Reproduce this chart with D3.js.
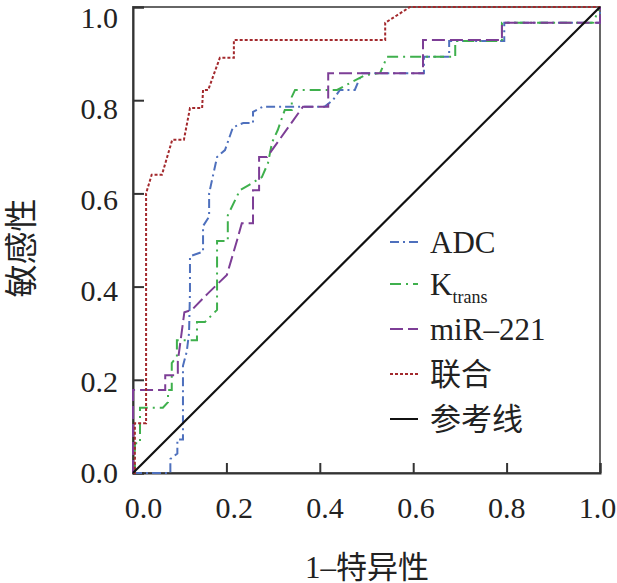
<!DOCTYPE html>
<html>
<head>
<meta charset="utf-8">
<script src="https://cdn.jsdelivr.net/npm/d3@7"></script>
<style>
  body { margin: 0; background: #fff; }
  text { font-family: "Liberation Serif", "Noto Sans CJK SC", serif; fill: #222; }
</style>
</head>
<body>
<div id="chart"></div>
<script>
// ROC curve points [1-specificity, sensitivity]
var adcPoints = [[0,0],[0.08,0],[0.08,0.03],[0.095,0.042],[0.095,0.072],[0.107,0.072],[0.107,0.23],
	[0.115,0.26],[0.12,0.3],[0.122,0.39],[0.122,0.465],[0.15,0.475],[0.15,0.53],[0.163,0.55],[0.163,0.6],
	[0.18,0.678],[0.197,0.693],[0.214,0.742],[0.236,0.751],[0.257,0.751],[0.257,0.775],[0.278,0.786],
	[0.41,0.786],[0.428,0.80],[0.443,0.822],[0.475,0.822],[0.49,0.858],[0.623,0.858],[0.623,0.893],
	[0.677,0.893],[0.677,0.927],[0.795,0.927],[0.795,0.966],[1,0.966],[1,1]];

var ktransPoints = [[0,0],[0.004,0],[0.004,0.064],[0.015,0.064],[0.015,0.14],[0.064,0.14],[0.075,0.152],
	[0.075,0.178],[0.083,0.178],[0.083,0.236],[0.094,0.25],[0.094,0.285],[0.137,0.285],[0.137,0.324],
	[0.154,0.324],[0.18,0.35],[0.18,0.498],[0.203,0.498],[0.203,0.553],[0.229,0.607],[0.248,0.618],
	[0.276,0.635],[0.289,0.665],[0.298,0.71],[0.31,0.736],[0.325,0.779],[0.34,0.779],[0.34,0.807],
	[0.347,0.822],[0.437,0.822],[0.497,0.854],[0.529,0.858],[0.544,0.893],[0.69,0.893],[0.69,0.927],
	[0.79,0.927],[0.79,0.966],[0.985,0.966],[1,1]];

var mirPoints = [[0,0],[0,0.178],[0.069,0.178],[0.069,0.21],[0.096,0.21],[0.096,0.24],[0.11,0.345],
	[0.126,0.35],[0.16,0.385],[0.201,0.425],[0.223,0.5],[0.233,0.536],[0.257,0.536],[0.257,0.607],
	[0.27,0.607],[0.27,0.678],[0.287,0.678],[0.364,0.786],[0.418,0.786],[0.418,0.858],[0.621,0.858],
	[0.621,0.929],[0.79,0.929],[0.79,0.966],[1,0.966],[1,1]];

var combinedPoints = [[0,0],[0.004,0],[0.004,0.107],[0.028,0.107],[0.028,0.6],[0.04,0.64],[0.062,0.64],
	[0.084,0.715],[0.109,0.715],[0.122,0.783],[0.148,0.783],[0.15,0.822],[0.161,0.822],[0.186,0.891],
	[0.216,0.891],[0.216,0.929],[0.54,0.929],[0.54,0.966],[0.593,1],[1,1]];

var referencePoints = [[0,0],[1,1]];

var seriesNames = ["ADC", "Ktrans", "miR–221", "联合", "参考线"];
var tickValues = [0, 0.2, 0.4, 0.6, 0.8, 1.0];

var series = [
	{ name: seriesNames[0], points: adcPoints, color: "#4e70bd", dash: "9,4,2,4" },
	{ name: seriesNames[1], points: ktransPoints, color: "#3fb04d", dash: "11,5,2,5" },
	{ name: seriesNames[2], points: mirPoints, color: "#7d3e96", dash: "13,5" },
	{ name: seriesNames[3], points: combinedPoints, color: "#a3292d", dash: "3,2" },
	{ name: seriesNames[4], points: referencePoints, color: "#111", dash: null }
];

var margin = { top: 7, right: 17, bottom: 110, left: 133 };
var width = 617 - margin.left - margin.right,
	height = 583 - margin.top - margin.bottom;

var svg = d3.select("#chart").append("svg")
	.attr("width", 617)
	.attr("height", 583)
	.append("g")
	.attr("transform", "translate(" + margin.left + "," + margin.top + ")");

// Scales
var x = d3.scaleLinear().domain([0, 1]).range([0, width]);
var y = d3.scaleLinear().domain([0, 1]).range([height, 0]);

// tick labels sit slightly off their ticks in the original
var xLabel = d3.scaleLinear().domain([0, 1]).range([10, width - 3]);
var yLabel = d3.scaleLinear().domain([0, 1]).range([height, 11]);

// frame
svg.append("rect")
	.attr("width", width)
	.attr("height", height)
	.attr("fill", "none")
	.attr("stroke", "#666")
	.attr("stroke-width", 2);

// axes with inward ticks
svg.append("g")
	.attr("transform", "translate(0," + height + ")")
	.call(d3.axisBottom(x).tickValues(tickValues).tickSize(-10).tickFormat(""))
	.call(function (g) {
		g.selectAll("line, path").attr("stroke", "#333").attr("stroke-width", 2);
	});

svg.append("g")
	.call(d3.axisLeft(y).tickValues(tickValues).tickSize(-11).tickFormat(""))
	.call(function (g) {
		g.selectAll("line, path").attr("stroke", "#333").attr("stroke-width", 2);
	});

// tick labels
svg.append("g")
	.attr("transform", "translate(0," + height + ")")
	.call(d3.axisBottom(xLabel).tickValues(tickValues).tickSize(0).tickPadding(24).tickFormat(d3.format(".1f")))
	.call(function (g) {
		g.select(".domain").remove();
		g.selectAll("text").attr("font-size", 30).attr("font-family", null).attr("fill", "#222");
	});

svg.append("g")
	.call(d3.axisLeft(yLabel).tickValues(tickValues).tickSize(0).tickPadding(15).tickFormat(d3.format(".1f")))
	.call(function (g) {
		g.select(".domain").remove();
		g.selectAll("text").attr("font-size", 30).attr("font-family", null).attr("fill", "#222");
	});

// axis titles
svg.append("text")
	.attr("transform", "translate(" + (22 - margin.left) + "," + (248 - margin.top) + ") rotate(-90)")
	.attr("text-anchor", "middle")
	.attr("dominant-baseline", "central")
	.attr("font-size", 33)
	.text("敏感性");

svg.append("text")
	.attr("x", 367 - margin.left)
	.attr("y", 567 - margin.top)
	.attr("text-anchor", "middle")
	.attr("dominant-baseline", "central")
	.attr("font-size", 31)
	.text("1–特异性");

// curves
var line = d3.line()
	.x(function (d) { return x(d[0]); })
	.y(function (d) { return y(d[1]); });

svg.selectAll(".roc")
	.data(series)
	.enter()
	.append("path")
	.attr("class", "roc")
	.attr("d", function (d) { return line(d.points); })
	.attr("fill", "none")
	.attr("stroke", function (d) { return d.color; })
	.attr("stroke-width", function (d) { return d.dash ? 2 : 2.2; })
	.attr("stroke-dasharray", function (d) { return d.dash; });

// legend
var legend = svg.append("g")
	.attr("transform", "translate(" + (390 - margin.left) + "," + (242 - margin.top) + ")");

var rows = legend.selectAll(".row")
	.data(series)
	.enter()
	.append("g")
	.attr("class", "row")
	.attr("transform", function (d, i) { return "translate(0," + (i * 45 - (i > 0 ? 3 : 0)) + ")"; });

rows.append("line")
	.attr("x1", 0)
	.attr("x2", 28)
	.attr("stroke", function (d) { return d.color; })
	.attr("stroke-width", 2)
	.attr("stroke-dasharray", function (d) { return d.dash; });

rows.append("text")
	.attr("x", 40)
	.attr("dominant-baseline", "central")
	.attr("font-size", 31)
	.each(function (d) {
		var t = d3.select(this);
		if (d.name === "Ktrans") {
			t.append("tspan").text("K");
			t.append("tspan").attr("font-size", 18).attr("dy", 13).text("trans");
		} else {
			t.text(d.name);
		}
	});
</script>
</body>
</html>
